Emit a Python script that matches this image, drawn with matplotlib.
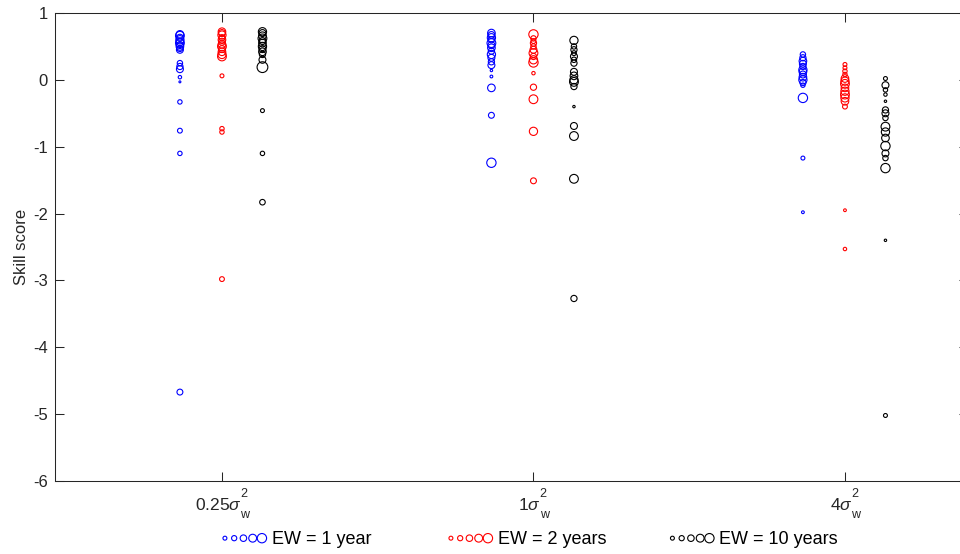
import numpy as np
import matplotlib.pyplot as plt
import matplotlib.transforms as mtransforms
from matplotlib.legend_handler import HandlerPathCollection

plt.rcParams['font.family'] = ['Liberation Sans', 'DejaVu Sans']
plt.rcParams['mathtext.fontset'] = 'custom'
plt.rcParams['mathtext.rm'] = 'Liberation Sans'
plt.rcParams['mathtext.it'] = 'Liberation Sans:italic'
plt.rcParams['axes.unicode_minus'] = False

# noise levels on the x axis
niveis = [1, 2, 3]
rotulos = [r'0.25$\sigma$', r'1$\sigma$', r'4$\sigma$']
expoente = '2'
indice = 'w'

# skill scores, one list per noise level (EW = 1 year)
ew1_vals = [
    [0.68, 0.66, 0.63, 0.6, 0.57, 0.55, 0.52, 0.5, 0.47, 0.45, 0.25, 0.2, 0.16, 0.04, -0.03, -0.33, -0.76, -1.1, -4.67],
    [0.7, 0.67, 0.63, 0.6, 0.55, 0.52, 0.48, 0.43, 0.38, 0.33, 0.27, 0.22, 0.14, 0.05, -0.12, -0.53, -1.24],
    [0.38, 0.33, 0.28, 0.24, 0.2, 0.15, 0.12, 0.08, 0.04, 0.0, -0.04, -0.08, -0.27, -1.17, -1.98],
]
ew1_tam = [
    [30, 40, 25, 35, 30, 40, 25, 30, 20, 25, 15, 20, 25, 6, 2, 10, 12, 10, 18],
    [30, 25, 35, 20, 40, 25, 30, 20, 35, 25, 20, 25, 3, 4, 30, 18, 45],
    [15, 20, 30, 25, 20, 35, 30, 25, 30, 35, 20, 10, 45, 8, 4],
]

# EW = 2 years
ew2_vals = [
    [0.72, 0.7, 0.67, 0.63, 0.6, 0.57, 0.53, 0.5, 0.46, 0.42, 0.38, 0.35, 0.06, -0.73, -0.78, -2.98],
    [0.68, 0.62, 0.58, 0.55, 0.5, 0.45, 0.4, 0.35, 0.3, 0.26, 0.1, -0.11, -0.29, -0.77, -1.51],
    [0.23, 0.18, 0.13, 0.08, 0.02, -0.02, -0.06, -0.12, -0.17, -0.22, -0.27, -0.32, -0.4, -1.95, -2.53],
]
ew2_tam = [
    [30, 25, 35, 20, 30, 25, 30, 40, 25, 30, 35, 40, 8, 10, 10, 12],
    [45, 15, 12, 20, 15, 25, 40, 20, 35, 45, 6, 20, 40, 35, 18],
    [8, 8, 10, 10, 30, 35, 40, 30, 35, 40, 35, 30, 12, 4, 6],
]

# EW = 10 years
ew10_vals = [
    [0.72, 0.7, 0.66, 0.62, 0.58, 0.55, 0.5, 0.46, 0.42, 0.38, 0.3, 0.19, -0.46, -1.1, -1.83],
    [0.59, 0.5, 0.45, 0.4, 0.35, 0.3, 0.25, 0.12, 0.06, 0.0, -0.03, -0.1, -0.4, -0.69, -0.84, -1.48, -3.27],
    [0.02, -0.08, -0.15, -0.22, -0.32, -0.45, -0.5, -0.57, -0.7, -0.78, -0.87, -0.99, -1.1, -1.17, -1.32, -2.4, -5.02],
]
ew10_tam = [
    [35, 25, 30, 40, 25, 30, 35, 25, 30, 20, 25, 60, 8, 10, 16],
    [35, 15, 20, 12, 25, 15, 20, 25, 30, 35, 40, 20, 3, 25, 40, 40, 20],
    [8, 25, 10, 6, 3, 20, 25, 15, 40, 35, 30, 45, 25, 15, 45, 3, 8],
]

series = [
    (ew1_vals, ew1_tam, 'blue', -0.135, 'EW = 1 year', 219.5),
    (ew2_vals, ew2_tam, 'red', 0.0, 'EW = 2 years', 445.5),
    (ew10_vals, ew10_tam, 'black', 0.13, 'EW = 10 years', 667.0),
]

cinza = '#262626'
fig = plt.figure(figsize=(9.6, 5.54), dpi=100)
ax = fig.add_axes([55/960, 73/554, 913/960, 468/554])

handles = []
for vals, tams, cor, desl, nome, x0 in series:
    xs, ys, ss = [], [], []
    for n, v, t in zip(niveis, vals, tams):
        xs += [n + desl]*len(v)
        ys += v
        ss += t
    h = ax.scatter(xs, ys, s=ss, facecolors='none', edgecolors=cor, linewidths=0.8)
    handles.append(h)

ax.set_xlim(0.464, 3.395)
ax.set_ylim(-6, 1)
ax.set_xticks(niveis)
ax.set_xticklabels([])
ax.set_yticks(range(-6, 2))
ax.set_ylabel('Skill score', fontsize=12, color=cinza, labelpad=3)
ax.tick_params(direction='in', top=True, right=True, length=6.5, width=0.75,
               color=cinza, labelcolor=cinza, labelsize=12)
ax.tick_params(axis='y', pad=5)
for sp in ax.spines.values():
    sp.set_color(cinza)
    sp.set_linewidth(0.75)

# rotulos do eixo x montados a mao (sigma com expoente e indice empilhados)
trans = ax.get_xaxis_transform()
r = fig.canvas.get_renderer()
for n, rot in zip(niveis, rotulos):
    base = ax.text(n, 0, rot, transform=trans, fontsize=12.5, color=cinza,
                   ha='left', va='baseline')
    sup = ax.text(n, 0, expoente, transform=trans, fontsize=9, color=cinza,
                  ha='left', va='baseline')
    sub = ax.text(n, 0, indice, transform=trans, fontsize=9, color=cinza,
                  ha='left', va='baseline')
    wb = base.get_window_extent(r).width - 1.5
    ws = max(sup.get_window_extent(r).width, sub.get_window_extent(r).width)
    x_ini = -(wb + ws) / 2
    base.set_transform(mtransforms.offset_copy(trans, fig=fig, x=x_ini, y=-29, units='dots'))
    sup.set_transform(mtransforms.offset_copy(trans, fig=fig, x=x_ini + wb, y=-16, units='dots'))
    sub.set_transform(mtransforms.offset_copy(trans, fig=fig, x=x_ini + wb, y=-37, units='dots'))

# legenda: uma caixa por serie, com 5 circulos crescentes
for h, (vals, tams, cor, desl, nome, x0) in zip(handles, series):
    fig.legend([h], [nome], loc='center left', bbox_to_anchor=(x0/960, 14/554),
               frameon=False, borderpad=0, borderaxespad=0, handlelength=2.65,
               handletextpad=0.25, scatterpoints=5, scatteryoffsets=[0.5], fontsize=13,
               handler_map={h: HandlerPathCollection(sizes=[8, 14, 22, 32, 45])})

fig.savefig('out.png', dpi=100)
